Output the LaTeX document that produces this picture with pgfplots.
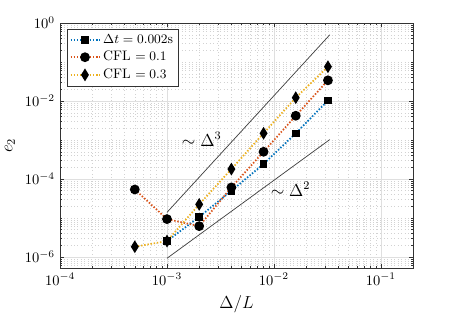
\documentclass[border=0pt]{standalone}
\usepackage{pgfplots}
\pgfplotsset{compat=1.18}
\definecolor{mblue}{rgb}{0,0.447,0.741}
\definecolor{mred}{rgb}{0.85,0.325,0.098}
\definecolor{myellow}{rgb}{0.929,0.694,0.125}
\begin{document}
\begin{tikzpicture}
\begin{axis}[
  scale only axis, width=243.4pt, height=169pt,
  xmode=log, ymode=log,
  xmin=1e-4, xmax=0.2, ymin=5.2e-7, ymax=1,
  xtick={1e-4,1e-3,1e-2,1e-1},
  ytick={1e-6,1e-4,1e-2,1},
  minor xtick={2e-4,3e-4,4e-4,5e-4,6e-4,7e-4,8e-4,9e-4,2e-3,3e-3,4e-3,5e-3,6e-3,7e-3,8e-3,9e-3,2e-2,3e-2,4e-2,5e-2,6e-2,7e-2,8e-2,9e-2},
  minor ytick={6e-7,7e-7,8e-7,9e-7,2e-6,3e-6,4e-6,5e-6,6e-6,7e-6,8e-6,9e-6,1e-5,2e-5,3e-5,4e-5,5e-5,6e-5,7e-5,8e-5,9e-5,2e-4,3e-4,4e-4,5e-4,6e-4,7e-4,8e-4,9e-4,1e-3,2e-3,3e-3,4e-3,5e-3,6e-3,7e-3,8e-3,9e-3,2e-2,3e-2,4e-2,5e-2,6e-2,7e-2,8e-2,9e-2,1e-1,2e-1,3e-1,4e-1,5e-1,6e-1,7e-1,8e-1,9e-1},
  grid=both,
  major grid style={gray!25, line width=0.45pt},
  minor grid style={gray!35, dotted, line width=0.4pt},
  tick align=inside,
  major tick length=3pt, minor tick length=1.6pt,
  axis line style={black!80, line width=0.5pt},
  tick style={black!80, line width=0.4pt},
  xlabel={$\Delta/L$}, ylabel={$e_2$},
  label style={font=\large},
  legend style={at={(0.02,0.976)}, anchor=north west, draw=black!80, line width=0.5pt, font=\fontsize{9.5}{11}\selectfont, fill=white, row sep=0pt, inner sep=1.5pt},
  legend cell align=left,
  legend image code/.code={\draw[mark repeat=2,mark phase=2] plot coordinates {(0cm,0cm)(0.35cm,0cm)(0.7cm,0cm)};},
]
\addplot[mblue, line width=1.2pt, dash pattern=on 1pt off 1.2pt, mark=square*, mark options={solid, fill=black, draw=black, mark size=2pt}]
  coordinates {(1e-3,2.57e-6)(2e-3,1.07e-5)(4e-3,5.0e-5)(8e-3,2.43e-4)(1.6e-2,1.49e-3)(3.2e-2,1.03e-2)};
\addlegendentry{$\Delta t = 0.002$s}
\addplot[mred, line width=1.2pt, dash pattern=on 1pt off 1.2pt, mark=*, mark options={solid, fill=black, draw=black, mark size=2.75pt}]
  coordinates {(5e-4,5.4e-5)(1e-3,9.4e-6)(2e-3,6.2e-6)(4e-3,6.1e-5)(8e-3,5.0e-4)(1.6e-2,4.2e-3)(3.2e-2,3.4e-2)};
\addlegendentry{CFL $= 0.1$}
\addplot[myellow, line width=1.2pt, dash pattern=on 1pt off 1.2pt, mark=diamond*, mark options={solid, fill=black, draw=black, mark size=3.3pt, xscale=0.82}]
  coordinates {(5e-4,1.84e-6)(1e-3,2.57e-6)(2e-3,2.24e-5)(4e-3,1.8e-4)(8e-3,1.49e-3)(1.6e-2,1.22e-2)(3.2e-2,7.6e-2)};
\addlegendentry{CFL $= 0.3$}
\addplot[black!75, line width=0.5pt, forget plot] coordinates {(1e-3,1.4e-5)(3.33e-2,0.5)};
\addplot[black!75, line width=0.5pt, forget plot] coordinates {(1e-3,9.3e-7)(3.33e-2,1.03e-3)};
\node[font=\large] at (axis cs:2.11e-3,1.05e-3) {$\sim\Delta^3$};
\node[font=\large] at (axis cs:1.43e-2,5.5e-5) {$\sim\Delta^2$};
\end{axis}
\path (current axis.south west) ++(-41.4pt,-28.3pt);
\path (current axis.north east) ++(30.3pt,15.9pt);
\end{tikzpicture}
\end{document}
